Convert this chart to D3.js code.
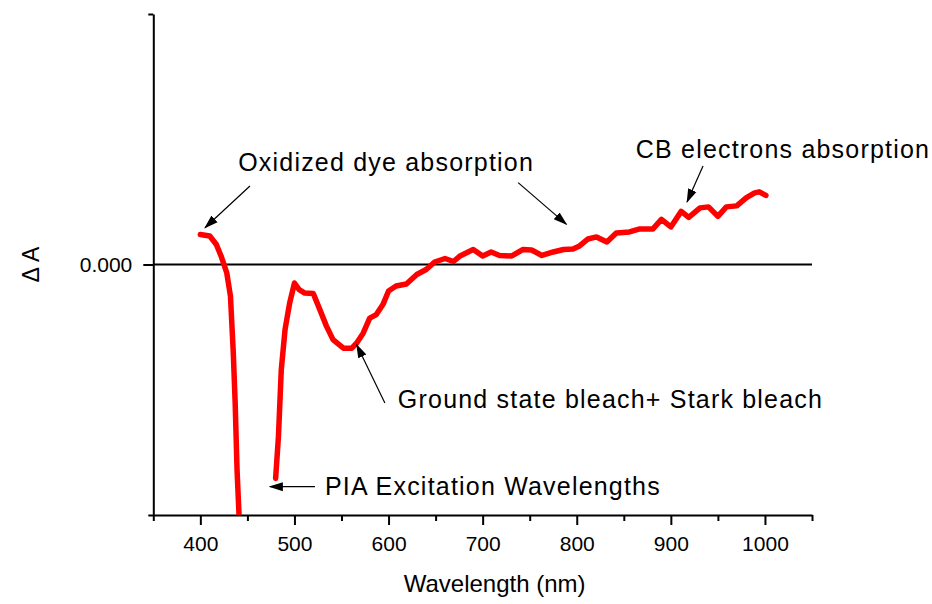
<!DOCTYPE html>
<html>
<head>
<meta charset="utf-8">
<script src="https://cdn.jsdelivr.net/npm/d3@7"></script>
<style>
  html, body { margin: 0; padding: 0; background: #fff; }
  svg { display: block; font-family: "Liberation Sans", Arial, sans-serif; }
</style>
</head>
<body>
<svg id="chart" width="932" height="604"></svg>
<script>
// ---------- data ----------
// Segment before the excitation (pump) window
const wavelengths1 = [400, 410, 417, 422, 428, 432, 435, 437, 439, 441, 443];
const deltaA1 = [0.00060, 0.00057, 0.00040, 0.00017, -0.00016, -0.00063, -0.00176, -0.00276, -0.00410, -0.00496, -0.00590];
// Segment after the excitation window
const wavelengths2 = [480, 483, 486, 490, 495, 500, 505, 511, 520, 527, 534, 541, 552, 561, 566, 573, 580, 587, 594, 600,
  608, 619, 630, 640, 649, 660, 669, 676, 690, 700, 709, 718, 731, 743, 752, 763, 775, 786, 796, 803,
  812, 821, 832, 842, 856, 867, 881, 890, 900, 911, 919, 931, 940, 950, 959, 970, 980, 989, 994, 1001];
const deltaA2 = [-0.00427, -0.00343, -0.00210, -0.00130, -0.00076, -0.00037, -0.00050, -0.00057, -0.00058, -0.00090,
  -0.00123, -0.00150, -0.00167, -0.00167, -0.00157, -0.00137, -0.00107, -0.00100, -0.00080, -0.00053,
  -0.00043, -0.00039, -0.00020, -0.00010, 0.00005, 0.00012, 0.00006, 0.00017, 0.00030, 0.00017,
  0.00025, 0.00018, 0.00017, 0.00030, 0.00029, 0.00018, 0.00025, 0.00030, 0.00031, 0.00037,
  0.00051, 0.00055, 0.00045, 0.00063, 0.00065, 0.00071, 0.00071, 0.00090, 0.00075, 0.00106,
  0.00094, 0.00113, 0.00115, 0.00096, 0.00115, 0.00117, 0.00133, 0.00143, 0.00145, 0.00138];

const xMajorTicks = [400, 500, 600, 700, 800, 900, 1000];
const xMinorTicks = [350, 450, 550, 650, 750, 850, 950, 1050];
const yMajorTicks = [0];
const yMinorTicks = [-0.005, 0.005];

// annotations (data coordinates)
const annotationTexts = ["Oxidized dye absorption", "CB electrons absorption", "Ground state bleach+ Stark bleach", "PIA Excitation Wavelengths"];
const annotationX = [440.2, 862.7, 609.9, 532.4];
const annotationY = [0.00186, 0.00213, -0.00286, -0.00460];
// arrows: from (wavelength, ΔA) to (wavelength, ΔA)
const arrowFromX = [452.7, 737.7, 596.1, 521.8, 934.2];
const arrowFromY = [0.001566, 0.001634, -0.002766, -0.004434, 0.001966];
const arrowToX = [404.9, 789.1, 566.1, 473.9, 917.2];
const arrowToY = [0.000734, 0.00080, -0.00160, -0.004434, 0.001246];

// ---------- chart ----------
const svg = d3.select("#chart");
const x = d3.scaleLinear().domain([350, 1050]).range([153.3, 812]);
const y = d3.scaleLinear().domain([-0.005, 0.005]).range([515, 14]);

svg.append("defs").append("clipPath").attr("id", "plotclip")
  .append("rect").attr("x", x(350)).attr("y", y(0.005)).attr("width", x(1050) - x(350)).attr("height", y(-0.005) - y(0.005));

svg.append("defs").append("marker")
  .attr("id", "arrowhead").attr("markerUnits", "userSpaceOnUse")
  .attr("viewBox", "0 -6 14 12").attr("refX", 13).attr("refY", 0)
  .attr("markerWidth", 14).attr("markerHeight", 12).attr("orient", "auto")
  .append("path").attr("d", "M0,-4.5L14,0L0,4.5Z").attr("fill", "#000");

// zero line
svg.append("line")
  .attr("x1", x(350)).attr("x2", x(1050)).attr("y1", y(0)).attr("y2", y(0))
  .attr("stroke", "#000").attr("stroke-width", 2);

// x axis
const gx = svg.append("g").attr("transform", `translate(0,${y(-0.005)})`);
gx.call(d3.axisBottom(x).tickValues(xMajorTicks).tickSize(10).tickSizeOuter(0).tickPadding(11).tickFormat(d3.format("d")));
const gxm = svg.append("g").attr("transform", `translate(0,${y(-0.005)})`);
gxm.call(d3.axisBottom(x).tickValues(xMinorTicks).tickSize(6).tickSizeOuter(0).tickFormat(""));
gxm.select(".domain").remove();

// y axis
const gy = svg.append("g").attr("transform", `translate(${x(350)},0)`);
gy.call(d3.axisLeft(y).tickValues(yMajorTicks).tickSize(10).tickSizeOuter(0).tickPadding(11).tickFormat(d3.format(".3f")));
const gym = svg.append("g").attr("transform", `translate(${x(350)},0)`);
gym.call(d3.axisLeft(y).tickValues(yMinorTicks).tickSize(5).tickSizeOuter(0).tickFormat(""));
gym.select(".domain").remove();

svg.selectAll(".domain").attr("stroke", "#000").attr("stroke-width", 2);
svg.selectAll(".tick line").attr("stroke", "#000").attr("stroke-width", 2);
svg.selectAll(".tick text").attr("font-size", 21).attr("font-family", "'Liberation Sans', Arial, sans-serif").attr("fill", "#000");

// axis titles
svg.append("text").attr("x", (x(350) + x(1050)) / 2 + 12).attr("y", 592)
  .attr("text-anchor", "middle").attr("font-size", 24).text("Wavelength (nm)");
svg.append("text").attr("transform", `translate(39,${y(0)}) rotate(-90)`)
  .attr("text-anchor", "middle").attr("font-size", 23).text("Δ A");

// curve
const line = d3.line().x(d => x(d[0])).y(d => y(d[1])).curve(d3.curveLinear);
const seg1 = wavelengths1.map((w, i) => [w, deltaA1[i]]);
const seg2 = wavelengths2.map((w, i) => [w, deltaA2[i]]);
svg.append("g").attr("clip-path", "url(#plotclip)")
  .selectAll("path").data([seg1, seg2]).join("path")
  .attr("d", line).attr("fill", "none").attr("stroke", "#ff0000")
  .attr("stroke-width", 5.5).attr("stroke-linejoin", "round").attr("stroke-linecap", "round");

// arrows
svg.append("g").selectAll("line").data(arrowFromX).join("line")
  .attr("x1", (d, i) => x(arrowFromX[i])).attr("y1", (d, i) => y(arrowFromY[i]))
  .attr("x2", (d, i) => x(arrowToX[i])).attr("y2", (d, i) => y(arrowToY[i]))
  .attr("stroke", "#000").attr("stroke-width", 1.2).attr("marker-end", "url(#arrowhead)");

// annotation texts
svg.append("g").selectAll("text").data(annotationTexts).join("text")
  .attr("x", (d, i) => x(annotationX[i])).attr("y", (d, i) => y(annotationY[i]))
  .attr("font-size", 25).attr("letter-spacing", "1.2px").attr("fill", "#000")
  .text(d => d);
</script>
</body>
</html>
